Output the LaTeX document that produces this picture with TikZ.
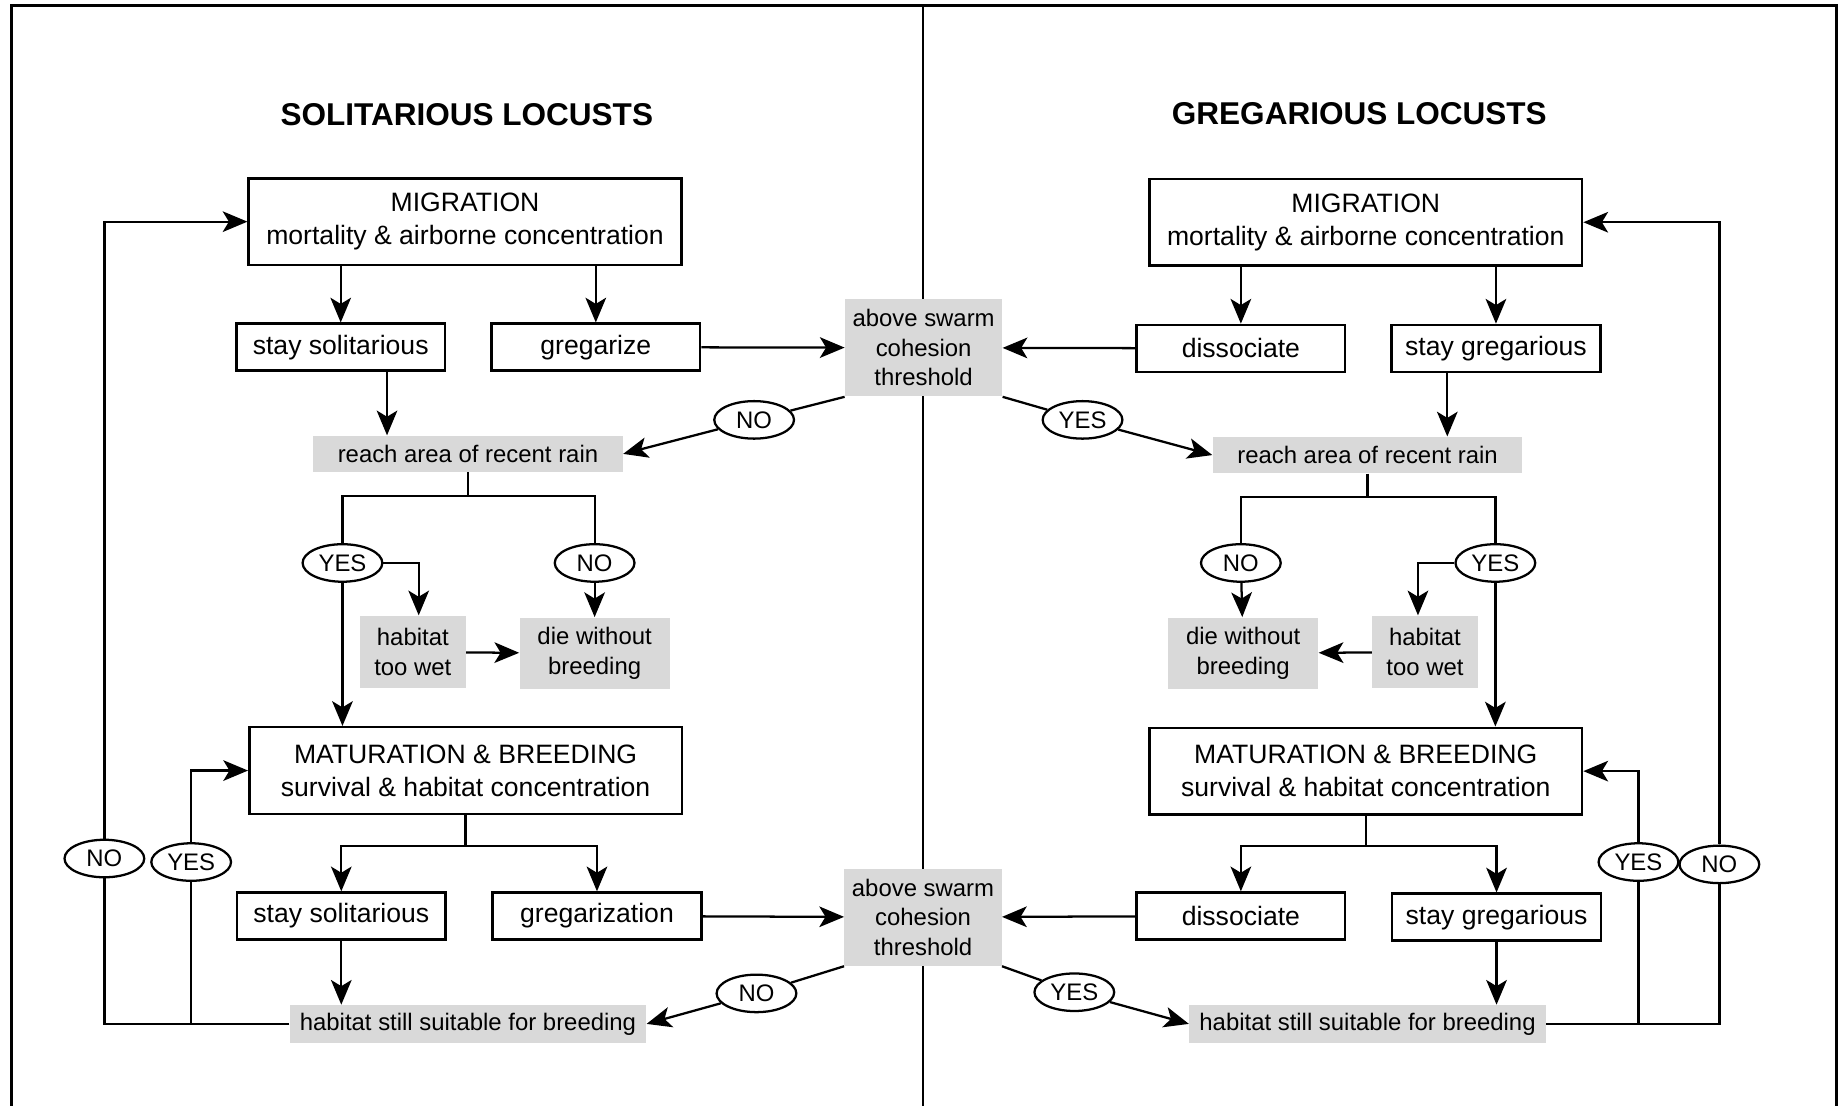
\documentclass[tikz,border=0pt]{standalone}
\usepackage{fontspec}
\setmainfont{Liberation Sans}
\usetikzlibrary{arrows.meta,shapes.geometric}
\definecolor{shade}{RGB}{217,217,217}

\begin{document}
\begin{tikzpicture}[x=0.02cm,y=-0.02cm,
	box/.style={draw,line width=1.2pt,inner sep=0pt,align=center,font=\fontsize{12.9}{15.9}\selectfont},
	bigbox/.style={box,minimum width=7.38cm,minimum height=1.48cm},
	smallbox/.style={box,minimum width=3.56cm,minimum height=0.8cm},
	greybox/.style={fill=shade,inner sep=0pt,align=center,font=\fontsize{11.6}{14.4}\selectfont},
	answer/.style={draw,ellipse,line width=1.1pt,inner sep=0pt,minimum width=1.36cm,minimum height=0.64cm,font=\fontsize{11.6}{14}\selectfont},
	title/.style={font=\fontsize{15.3}{18}\selectfont\bfseries},
	arr/.style={line width=1.1pt,-{Stealth[length=12pt,width=10pt,inset=3pt]}},
	link/.style={line width=1.1pt},
	frame/.style={line width=1.4pt}]
			\useasboundingbox (0,0) rectangle (1568,943);
			% frame and middle divider
			\draw[frame] (10,943) -- (10,5) -- (1566,5) -- (1566,943);
			\draw[frame] (787,5) -- (787,943);
			\node[title] (titleL) at (398,98) {SOLITARIOUS LOCUSTS};
			\node[title] (titleR) at (1159,97) {GREGARIOUS LOCUSTS};
			% shared threshold boxes
			\node[greybox,minimum width=2.68cm,minimum height=1.66cm] (thrTop) at (787.5,296.5) {above swarm\\cohesion\\threshold};
			\node[greybox,minimum width=2.68cm,minimum height=1.66cm] (thrBot) at (787,782) {above swarm\\cohesion\\threshold};
			% solitarious side
			\node[bigbox] (migL) at (396.5,189) {MIGRATION\\mortality \& airborne concentration};
			\node[smallbox] (ssolL) at (290.5,296) {stay solitarious};
			\node[smallbox] (gregL) at (508,296) {gregarize};
			\node[answer] (noA) at (643,358) {NO};
			\node[greybox,minimum width=5.28cm,minimum height=0.62cm] (reachL) at (399,387) {reach area of recent rain};
			\node[answer] (yesB) at (292,480) {YES};
			\node[answer] (noB) at (507,480) {NO};
			\node[greybox,minimum width=1.8cm,minimum height=1.24cm] (wetL) at (352,556) {habitat\\too wet};
			\node[greybox,minimum width=2.56cm,minimum height=1.22cm] (dieL) at (507,557) {die without\\breeding};
			\node[bigbox] (matL) at (397,657) {MATURATION \& BREEDING\\survival \& habitat concentration};
			\node[smallbox] (ssol2L) at (291,781) {stay solitarious};
			\node[smallbox] (greg2L) at (509,781) {gregarization};
			\node[answer] (noD) at (645,847) {NO};
			\node[greybox,minimum width=6.08cm,minimum height=0.64cm] (stillL) at (399,873) {habitat still suitable for breeding};
			\node[answer] (noE) at (89,732) {NO};
			\node[answer] (yesE) at (163,735) {YES};
			\draw[arr] (ssolL |- migL.south) -- (ssolL.north);
			\draw[arr] (gregL |- migL.south) -- (gregL.north);
			\draw[arr] (gregL) -- (thrTop);
			\draw[link] (thrTop.south west) -- (noA);
			\draw[arr] (noA) -- (reachL.east);
			\draw[arr] ([xshift=0.79cm]ssolL.south) coordinate (ssolLdrop) -- (ssolLdrop |- reachL.north);
			\draw[link] (reachL.south) -- ++(0,20) coordinate (forkL);
			\draw[link] (yesB) |- (forkL) -| (noB);
			\draw[arr] (yesB.east) -| ([xshift=0.1cm]wetL.north);
			\draw[arr] (noB) -- (dieL);
			\draw[arr] (wetL) -- (dieL);
			\draw[arr] (yesB) -- (yesB |- matL.north);
			\draw[link] (matL.south) -- ++(0,26) coordinate (fork2L);
			\draw[arr] (fork2L) -| (ssol2L.north);
			\draw[arr] (fork2L) -| (greg2L.north);
			\draw[arr] (greg2L) -- (thrBot);
			\draw[link] (thrBot.south west) -- (noD);
			\draw[arr] (noD) -- (stillL.east);
			\draw[arr] (ssol2L) -- (ssol2L |- stillL.north);
			\draw[link] (stillL.west) -| (noE);
			\draw[link] (yesE) -- (yesE |- stillL.west);
			\draw[arr] (noE) |- (migL.west);
			\draw[arr] (yesE) |- (matL.west);
			% gregarious side
			\node[bigbox] (migR) at (1164.5,189.5) {MIGRATION\\mortality \& airborne concentration};
			\node[smallbox] (dissR) at (1058,297) {dissociate};
			\node[smallbox] (sgregR) at (1275.5,297) {stay gregarious};
			\node[answer] (yesA) at (923,358) {YES};
			\node[greybox,minimum width=5.28cm,minimum height=0.62cm] (reachR) at (1166,388) {reach area of recent rain};
			\node[answer] (noB2) at (1058,480) {NO};
			\node[answer] (yesB2) at (1275,480) {YES};
			\node[greybox,minimum width=1.8cm,minimum height=1.24cm] (wetR) at (1215,556) {habitat\\too wet};
			\node[greybox,minimum width=2.56cm,minimum height=1.22cm] (dieR) at (1060,557) {die without\\breeding};
			\node[bigbox] (matR) at (1164.5,657.5) {MATURATION \& BREEDING\\survival \& habitat concentration};
			\node[smallbox] (diss2R) at (1058,781) {dissociate};
			\node[smallbox] (sgreg2R) at (1276,782) {stay gregarious};
			\node[answer] (yesD) at (916,846) {YES};
			\node[greybox,minimum width=6.08cm,minimum height=0.64cm] (stillR) at (1166,873) {habitat still suitable for breeding};
			\node[answer] (yesE2) at (1397,735) {YES};
			\node[answer] (noE2) at (1466,737) {NO};
			\draw[arr] (dissR |- migR.south) -- (dissR.north);
			\draw[arr] (sgregR |- migR.south) -- (sgregR.north);
			\draw[arr] (dissR) -- (thrTop);
			\draw[link] (thrTop.south east) -- (yesA);
			\draw[arr] (yesA) -- (reachR.west);
			\draw[arr] ([xshift=-0.83cm]sgregR.south) coordinate (sgregRdrop) -- (sgregRdrop |- reachR.north);
			\draw[link] (reachR.south) -- ++(0,20) coordinate (forkR);
			\draw[link] (noB2) |- (forkR) -| (yesB2);
			\draw[arr] (yesB2.west) -| ([xshift=-0.12cm]wetR.north);
			\draw[arr] (noB2) -- (dieR);
			\draw[arr] (wetR) -- (dieR);
			\draw[arr] (yesB2) -- (yesB2 |- matR.north);
			\draw[link] (matR.south) -- ++(0,26) coordinate (fork2R);
			\draw[arr] (fork2R) -| (diss2R.north);
			\draw[arr] (fork2R) -| (sgreg2R.north);
			\draw[arr] (diss2R) -- (thrBot);
			\draw[link] (thrBot.south east) -- (yesD);
			\draw[arr] (yesD) -- (stillR.west);
			\draw[arr] (sgreg2R) -- (sgreg2R |- stillR.north);
			\draw[link] (stillR.east) -| (noE2);
			\draw[link] (yesE2) -- (yesE2 |- stillR.east);
			\draw[arr] (noE2) |- (migR.east);
			\draw[arr] (yesE2) |- (matR.east);
\end{tikzpicture}
\end{document}
